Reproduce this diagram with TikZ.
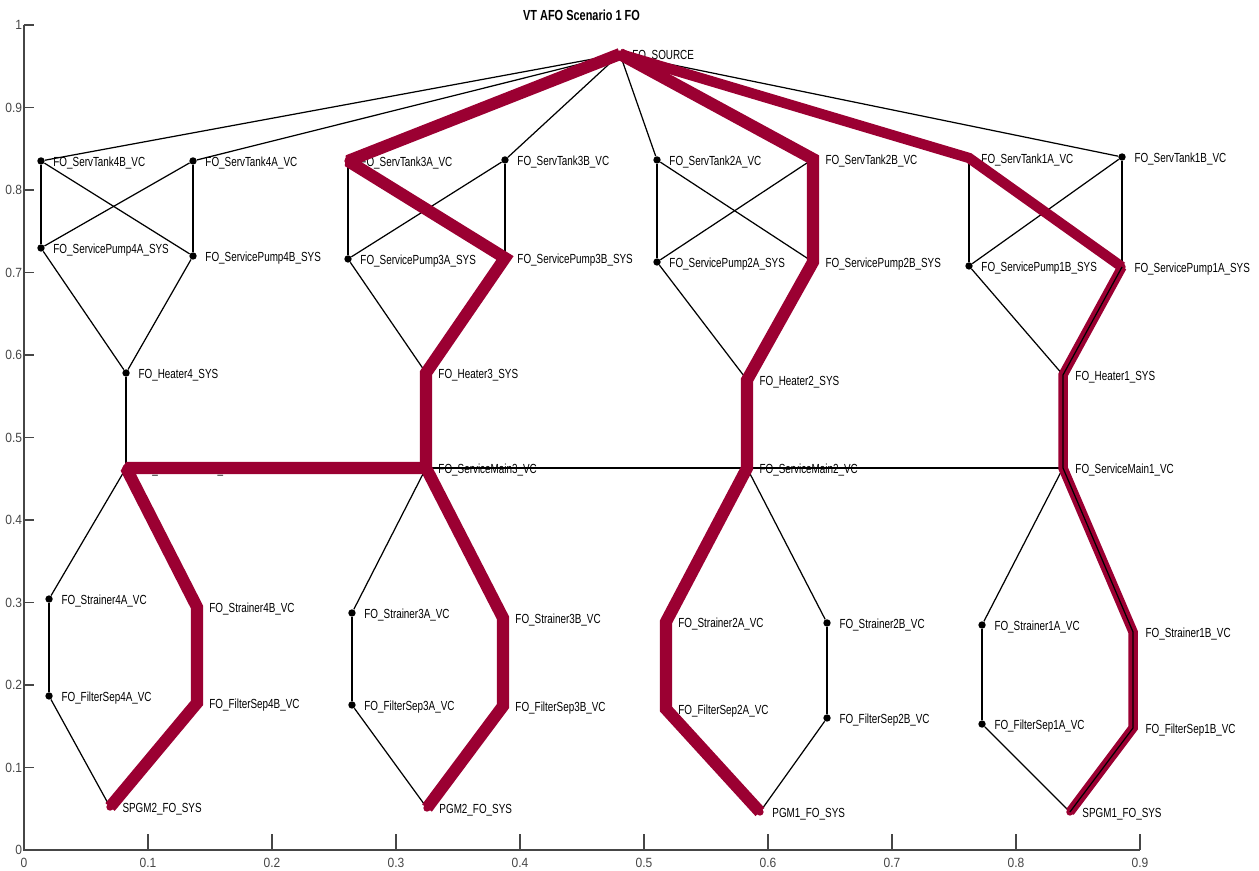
\documentclass[tikz,border=0pt]{standalone}
\usepackage{fontspec}
\usepackage{tikz}
\newfontfamily\lblfont[FakeStretch=0.75]{Liberation Sans}
\newfontfamily\tickfont[FakeStretch=0.9]{Liberation Sans}
\definecolor{hotred}{RGB}{155,0,50}
\definecolor{axisgray}{RGB}{70,70,70}

\begin{document}
\begin{tikzpicture}[x=24.8cm, y=16.5cm, label distance=4.6pt,
  vtx/.style={circle, fill=black, inner sep=0pt, minimum size=4.2pt},
  hotvtx/.style={vtx, fill=hotred},
  lbl/.style={font=\lblfont\fontsize{7.5pt}{8pt}\selectfont, inner sep=0pt, yshift=-1.3pt},
  ticklbl/.style={font=\tickfont\fontsize{7.6pt}{9pt}\selectfont, text=axisgray, inner sep=0pt},
  axisline/.style={draw=axisgray, line width=0.6pt},
  edge/.style={draw=black, line width=0.7pt},
  hot/.style={draw=hotred, line width=6.9pt, line join=miter, miter limit=1.6},
  hotthin/.style={draw=hotred, line width=5.9pt, line join=miter, miter limit=1.6}]

\useasboundingbox (-0.01935,-0.02545) rectangle (0.99597,1.0303);

% axes
\draw[axisline] (0,1) -- (0,0) -- (0.9,0);
\foreach \t [count=\k] in {0,0.1,0.2,0.3,0.4,0.5,0.6,0.7,0.8,0.9,1} {
  \draw[axisline] (0,\t) -- ++(0.008,0);
  \node[ticklbl, anchor=east] (yt\k) at (-0.0012,\t) {\t};
}
\foreach \t [count=\k] in {0,0.1,0.2,0.3,0.4,0.5,0.6,0.7,0.8,0.9} {
  \draw[axisline] (\t,0) -- ++(0,0.0194);
  \node[ticklbl, anchor=north] (xt\k) at (\t,-0.0100) {\t};
}
\node[font=\lblfont\bfseries\fontsize{8.3pt}{9pt}\selectfont, inner sep=0pt] (title) at (0.4496,1.0121) {VT AFO Scenario 1 FO};

% source and service tanks
\node[hotvtx, label={[lbl]right:FO\_SOURCE}] (src) at (0.4806,0.9648) {};
\node[vtx, label={[lbl]right:FO\_ServTank4B\_VC}] (tank4B) at (0.0137,0.8352) {};
\node[vtx, label={[lbl]right:FO\_ServTank4A\_VC}] (tank4A) at (0.1363,0.8352) {};
\node[hotvtx, label={[lbl]right:FO\_ServTank3A\_VC}] (tank3A) at (0.2613,0.8352) {};
\node[vtx, label={[lbl]right:FO\_ServTank3B\_VC}] (tank3B) at (0.3879,0.8364) {};
\node[vtx, label={[lbl]right:FO\_ServTank2A\_VC}] (tank2A) at (0.5105,0.8364) {};
\node[hotvtx, label={[lbl]right:FO\_ServTank2B\_VC}] (tank2B) at (0.6363,0.8376) {};
\node[hotvtx, label={[lbl]right:FO\_ServTank1A\_VC}] (tank1A) at (0.7621,0.8388) {};
\node[vtx, label={[lbl]right:FO\_ServTank1B\_VC}] (tank1B) at (0.8855,0.8400) {};

% service pumps
\node[vtx, label={[lbl]right:FO\_ServicePump4A\_SYS}] (pump4A) at (0.0137,0.7297) {};
\node[vtx, label={[lbl]right:FO\_ServicePump4B\_SYS}] (pump4B) at (0.1363,0.7200) {};
\node[vtx, label={[lbl]right:FO\_ServicePump3A\_SYS}] (pump3A) at (0.2613,0.7164) {};
\node[hotvtx, label={[lbl]right:FO\_ServicePump3B\_SYS}] (pump3B) at (0.3879,0.7176) {};
\node[vtx, label={[lbl]right:FO\_ServicePump2A\_SYS}] (pump2A) at (0.5105,0.7127) {};
\node[hotvtx, label={[lbl]right:FO\_ServicePump2B\_SYS}] (pump2B) at (0.6363,0.7127) {};
\node[vtx, label={[lbl]right:FO\_ServicePump1B\_SYS}] (pump1B) at (0.7621,0.7079) {};
\node[hotvtx, label={[lbl]right:FO\_ServicePump1A\_SYS}] (pump1A) at (0.8855,0.7067) {};

% heaters and service mains
\node[vtx, label={[lbl]right:FO\_Heater4\_SYS}] (heat4) at (0.0823,0.5782) {};
\node[hotvtx, label={[lbl]right:FO\_Heater3\_SYS}] (heat3) at (0.3242,0.5782) {};
\node[hotvtx, label={[lbl]right:FO\_Heater2\_SYS}] (heat2) at (0.5831,0.5697) {};
\node[hotvtx, label={[lbl]right:FO\_Heater1\_SYS}] (heat1) at (0.8379,0.5758) {};
\node[hotvtx, label={[lbl]right:FO\_ServiceMain4\_VC}] (main4) at (0.0823,0.4630) {};
\node[hotvtx, label={[lbl]right:FO\_ServiceMain3\_VC}] (main3) at (0.3242,0.4630) {};
\node[hotvtx, label={[lbl]right:FO\_ServiceMain2\_VC}] (main2) at (0.5831,0.4630) {};
\node[hotvtx, label={[lbl]right:FO\_ServiceMain1\_VC}] (main1) at (0.8379,0.4630) {};

% strainers, filter separators, generators
\node[vtx, label={[lbl]right:FO\_Strainer4A\_VC}] (str4A) at (0.0202,0.3042) {};
\node[vtx, label={[lbl]right:FO\_FilterSep4A\_VC}] (fsep4A) at (0.0202,0.1867) {};
\node[hotvtx, label={[lbl]right:FO\_Strainer4B\_VC}] (str4B) at (0.1395,0.2945) {};
\node[hotvtx, label={[lbl]right:FO\_FilterSep4B\_VC}] (fsep4B) at (0.1395,0.1782) {};
\node[hotvtx, label={[lbl]right:SPGM2\_FO\_SYS}] (spgm2) at (0.0694,0.0521) {};
\node[vtx, label={[lbl]right:FO\_Strainer3A\_VC}] (str3A) at (0.2645,0.2873) {};
\node[vtx, label={[lbl]right:FO\_FilterSep3A\_VC}] (fsep3A) at (0.2645,0.1758) {};
\node[hotvtx, label={[lbl]right:FO\_Strainer3B\_VC}] (str3B) at (0.3863,0.2812) {};
\node[hotvtx, label={[lbl]right:FO\_FilterSep3B\_VC}] (fsep3B) at (0.3863,0.1745) {};
\node[hotvtx, label={[lbl]right:PGM2\_FO\_SYS}] (pgm2) at (0.3250,0.0509) {};
\node[hotvtx, label={[lbl]right:FO\_Strainer2A\_VC}] (str2A) at (0.5177,0.2764) {};
\node[hotvtx, label={[lbl]right:FO\_FilterSep2A\_VC}] (fsep2A) at (0.5177,0.1709) {};
\node[vtx, label={[lbl]right:FO\_Strainer2B\_VC}] (str2B) at (0.6476,0.2752) {};
\node[vtx, label={[lbl]right:FO\_FilterSep2B\_VC}] (fsep2B) at (0.6476,0.1600) {};
\node[hotvtx, label={[lbl]right:PGM1\_FO\_SYS}] (pgm1) at (0.5935,0.0461) {};
\node[vtx, label={[lbl]right:FO\_Strainer1A\_VC}] (str1A) at (0.7726,0.2727) {};
\node[vtx, label={[lbl]right:FO\_FilterSep1A\_VC}] (fsep1A) at (0.7726,0.1527) {};
\node[hotvtx, label={[lbl]right:FO\_Strainer1B\_VC}] (str1B) at (0.8944,0.2642) {};
\node[hotvtx, label={[lbl]right:FO\_FilterSep1B\_VC}] (fsep1B) at (0.8944,0.1479) {};
\node[hotvtx, label={[lbl]right:SPGM1\_FO\_SYS}] (spgm1) at (0.8435,0.0461) {};

% plain edges
\path[every edge/.style=edge]
(src) edge (tank4B) (src) edge (tank4A) (src) edge (tank3B)
(src) edge (tank2A) (src) edge (tank1B)

(tank4B) edge (pump4A) (tank4B) edge (pump4B)
(tank4A) edge (pump4A) (tank4A) edge (pump4B)
(tank3A) edge (pump3A) (tank3B) edge (pump3A) (tank3B) edge (pump3B)
(tank2A) edge (pump2A) (tank2A) edge (pump2B) (tank2B) edge (pump2A)
(tank1A) edge (pump1B) (tank1B) edge (pump1B) (tank1B) edge (pump1A)

(pump4A) edge (heat4) (pump4B) edge (heat4) (heat4) edge (main4)
(pump3A) edge (heat3)
(pump2A) edge (heat2)
(pump1B) edge (heat1)

(main3) edge (main2) (main2) edge (main1)

(main4) edge (str4A) (str4A) edge (fsep4A) (fsep4A) edge (spgm2)
(main3) edge (str3A) (str3A) edge (fsep3A) (fsep3A) edge (pgm2)
(main2) edge (str2B) (str2B) edge (fsep2B) (fsep2B) edge (pgm1)
(main1) edge (str1A) (str1A) edge (fsep1A) (fsep1A) edge (spgm1);

% highlighted flow paths
\draw[hot] (src.center) -- (tank3A.center) -- (pump3B.center) -- (heat3.center) -- (main3.center)
  -- (str3B.center) -- (fsep3B.center) -- (pgm2.center);
\draw[hot] (main3.center) -- (main4.center) -- (str4B.center) -- (fsep4B.center) -- (spgm2.center);
\draw[hot] (src.center) -- (tank2B.center) -- (pump2B.center) -- (heat2.center) -- (main2.center)
  -- (str2A.center) -- (fsep2A.center) -- (pgm1.center);
\draw[hotthin] (src.center) -- (tank1A.center) -- (pump1A.center);
\draw[hotthin, line width=5.4pt] (pump1A.center) -- (heat1.center) -- (main1.center)
  -- (str1B.center) -- (fsep1B.center) -- (spgm1.center);
\draw[edge] (pump1A.center) -- (heat1.center) -- (main1.center)
  -- (str1B.center) -- (fsep1B.center) -- (spgm1.center);
\end{tikzpicture}
\end{document}
